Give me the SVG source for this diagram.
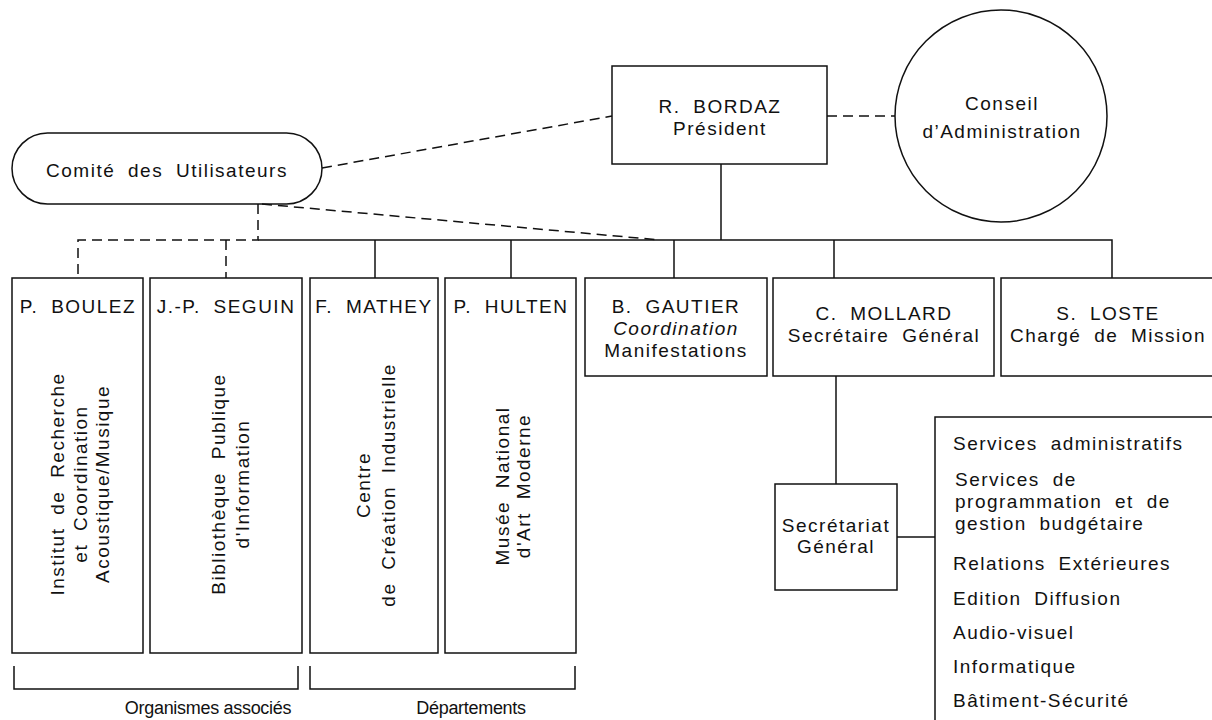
<svg xmlns="http://www.w3.org/2000/svg" width="1212" height="720" viewBox="0 0 1212 720">
<style>
.bx{fill:none;stroke:#111;stroke-width:1.5}
.ln{fill:none;stroke:#111;stroke-width:1.5}
.ds{fill:none;stroke:#111;stroke-width:1.5;stroke-dasharray:10 6}
.t{font-family:"Liberation Sans",Arial,Helvetica,sans-serif;font-size:19px;letter-spacing:1.5px;word-spacing:6px;fill:#111}
.lb{font-family:"Liberation Sans",Arial,Helvetica,sans-serif;font-size:18px;letter-spacing:-0.3px;fill:#111;text-anchor:middle}
.c{text-anchor:middle}
.i{font-style:italic}
</style>
<rect width="1212" height="720" fill="#fff"/>
<g id="connectors">
  <path class="ds" d="M322,168 L612,116"/>
  <path class="ds" d="M827,116 L895,116"/>
  <path class="ds" d="M262,204 L660,240"/>
  <path class="ds" d="M258,204 V240 H78 V278"/>
  <path class="ds" d="M226,240 V278"/>
  <path class="ln" d="M721,164 V240"/>
  <path class="ln" d="M258,240 H1112 V278"/>
  <path class="ln" d="M375,240 V278"/>
  <path class="ln" d="M511,240 V278"/>
  <path class="ln" d="M674,240 V278"/>
  <path class="ln" d="M834,240 V278"/>
  <path class="ln" d="M836,376 V484"/>
  <path class="ln" d="M897,537 H935"/>
  <path class="ln" d="M14,666 V689 H298 V666"/>
  <path class="ln" d="M310,666 V689 H575 V666"/>
</g>
<g id="comite">
  <rect class="bx" x="12" y="133" width="310" height="71" rx="35.5"/>
  <text class="t c" x="167" y="177">Comité des Utilisateurs</text>
</g>
<g id="bordaz">
  <rect class="bx" x="612" y="66" width="215" height="98"/>
  <text class="t c" x="720" y="113">R. BORDAZ</text>
  <text class="t c" x="720" y="135">Président</text>
</g>
<g id="conseil">
  <circle class="bx" cx="1001" cy="116" r="106"/>
  <text class="t c" x="1002" y="110">Conseil</text>
  <text class="t c" x="1002" y="138">d’Administration</text>
</g>
<g id="boulez">
  <rect class="bx" x="12" y="278" width="131" height="375"/>
  <text class="t c" x="78" y="313">P. BOULEZ</text>
  <text class="t c" transform="translate(87,484) rotate(-90)"><tspan x="0" y="-23">Institut de Recherche</tspan><tspan x="0" y="0">et Coordination</tspan><tspan x="0" y="22">Acoustique/Musique</tspan></text>
</g>
<g id="seguin">
  <rect class="bx" x="150" y="278" width="152" height="375"/>
  <text class="t c" x="226" y="313">J.-P. SEGUIN</text>
  <text class="t c" transform="translate(237,484) rotate(-90)"><tspan x="0" y="-12">Bibliothèque Publique</tspan><tspan x="0" y="12">d'Information</tspan></text>
</g>
<g id="mathey">
  <rect class="bx" x="310" y="278" width="128" height="375"/>
  <text class="t c" x="374" y="313">F. MATHEY</text>
  <text class="t c" transform="translate(382,485) rotate(-90)"><tspan x="0" y="-12">Centre</tspan><tspan x="0" y="13">de Création Industrielle</tspan></text>
</g>
<g id="hulten">
  <rect class="bx" x="445" y="278" width="131" height="375"/>
  <text class="t c" x="511" y="313">P. HULTEN</text>
  <text class="t c" transform="translate(519,486) rotate(-90)"><tspan x="0" y="-10">Musée National</tspan><tspan x="0" y="11">d'Art Moderne</tspan></text>
</g>
<g id="gautier">
  <rect class="bx" x="585" y="278" width="182" height="98"/>
  <text class="t c" x="676" y="313">B. GAUTIER</text>
  <text class="t c i" x="676" y="335">Coordination</text>
  <text class="t c" x="676" y="357">Manifestations</text>
</g>
<g id="mollard">
  <rect class="bx" x="773" y="278" width="221" height="98"/>
  <text class="t c" x="884" y="320">C. MOLLARD</text>
  <text class="t c" x="884" y="342">Secrétaire Général</text>
</g>
<g id="loste">
  <rect class="bx" x="1001" y="278" width="230" height="98"/>
  <text class="t c" x="1108" y="320">S. LOSTE</text>
  <text class="t c" x="1108" y="342">Chargé de Mission</text>
</g>
<g id="secretariat">
  <rect class="bx" x="775" y="484" width="122" height="106"/>
  <text class="t c" x="836" y="532">Secrétariat</text>
  <text class="t c" x="836" y="553">Général</text>
</g>
<g id="services">
  <path class="bx" d="M1220,417 H935 V722"/>
  <text class="t" x="953" y="450">Services administratifs</text>
  <text class="t" x="955" y="486">Services de</text>
  <text class="t" x="955" y="508">programmation et de</text>
  <text class="t" x="955" y="530">gestion budgétaire</text>
  <text class="t" x="953" y="570">Relations Extérieures</text>
  <text class="t" x="953" y="605">Edition Diffusion</text>
  <text class="t" x="953" y="639">Audio-visuel</text>
  <text class="t" x="953" y="673">Informatique</text>
  <text class="t" x="953" y="707">Bâtiment-Sécurité</text>
</g>
<g id="labels">
  <text class="lb" x="208" y="714">Organismes associés</text>
  <text class="lb" x="471" y="714">Départements</text>
</g>
</svg>
